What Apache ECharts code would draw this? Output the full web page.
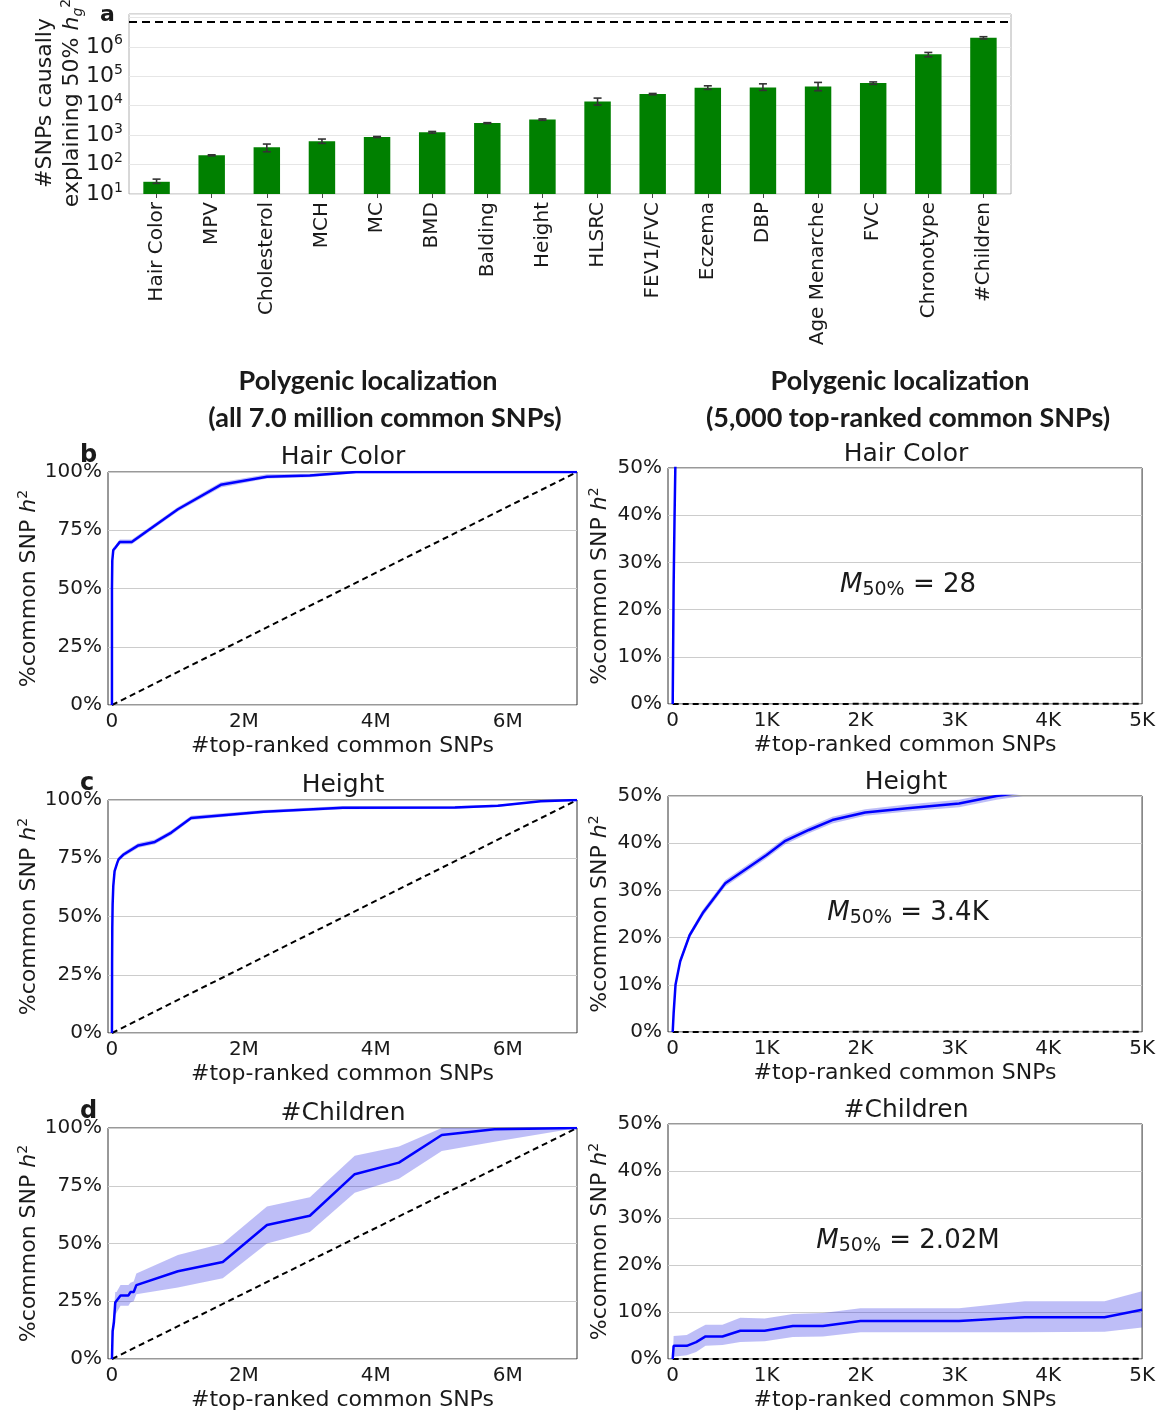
<!DOCTYPE html>
<html>
<head>
<meta charset="utf-8">
<script src="https://cdn.jsdelivr.net/npm/echarts@6/dist/echarts.min.js"></script>
<style>
  html, body { margin: 0; padding: 0; background: #fff; }
  #main { width: 1158px; height: 1412px; }
</style>
</head>
<body>
<div id="main"></div>
<script>
// panel a: #SNPs causally explaining 50% h2g
var traits = ['Hair Color', 'MPV', 'Cholesterol', 'MCH', 'MC', 'BMD', 'Balding', 'Height', 'HLSRC',
  'FEV1/FVC', 'Eczema', 'DBP', 'Age Menarche', 'FVC', 'Chronotype', '#Children'];
var m50 = [26, 206, 384, 614, 860, 1240, 2560, 3400, 13960, 24700, 40500, 41700, 45200, 58500, 562000, 2020000];
var m50Lo = [23, 198, 272, 525, 830, 1170, 2470, 3200, 10500, 23500, 35700, 33100, 32100, 53000, 457000, 1850000];
var m50Hi = [32, 215, 497, 735, 900, 1330, 2650, 3550, 18100, 26000, 47300, 55200, 61700, 64000, 643000, 2200000];
var totalSnps = 7000000;

// panels b-d, left column: x in millions of top-ranked SNPs, y in % of common SNP h2
var hairAllX = [0, 0.0001, 0.005, 0.02, 0.05, 0.12, 0.3, 0.55, 1.0, 1.65, 2.35, 3.0, 3.7, 7.05];
var hairAllY = [0, 50, 62, 66.5, 67.5, 70, 70, 75, 84, 94.5, 98, 98.5, 100, 100];
var hairAllLo = [0, 48, 60, 65.5, 66.5, 69, 69, 74, 83, 93.3, 97.2, 97.8, 99.5, 99.8];
var hairAllHi = [0, 52, 64, 67.5, 68.5, 71, 71, 76, 85, 95.6, 99, 99.3, 100, 100];

var heightAllX = [0, 0.002, 0.005, 0.01, 0.02, 0.04, 0.08, 0.1, 0.17, 0.4, 0.65, 0.9, 1.2, 2.3, 3.5, 5.2, 5.85, 6.5, 7.05];
var heightAllY = [0, 30, 45, 55, 63, 69.5, 73, 74.5, 76.5, 80.5, 82, 86, 92.3, 95, 96.7, 96.8, 97.5, 99.5, 100];
var heightAllLo = [0, 29, 44, 54, 62, 68.5, 72, 73.5, 75.5, 79.5, 81, 85, 91.4, 94.3, 96, 96.2, 97, 99.2, 99.8];
var heightAllHi = [0, 31, 46, 56, 64, 70.5, 74, 75.5, 77.5, 81.5, 83, 87, 93.2, 95.7, 97.4, 97.4, 98, 99.8, 100];

var kidsAllX = [0, 0.01, 0.03, 0.05, 0.07, 0.13, 0.25, 0.28, 0.33, 0.37, 1.0, 1.68, 2.35, 3.0, 3.68, 4.35, 5.0, 5.8, 7.05];
var kidsAllY = [0, 12, 16, 24.5, 24.5, 27.5, 27.5, 29, 29, 32, 38, 42, 58, 62, 80, 85, 97, 99.5, 100];
var kidsAllLo = [0, 8, 12, 19, 20, 23, 23, 24.5, 25, 28, 31, 35, 50, 55, 72, 78, 90, 94, 100];
var kidsAllHi = [0, 16, 21, 29, 29, 32, 32, 33, 33.5, 37, 45, 50, 66, 70, 88, 92, 100, 100, 100];

// right column: x in top-ranked SNPs (first 5,000)
var hairTopX = [0, 4, 10, 20, 28, 40];
var hairTopY = [0, 10, 25, 40, 50, 60];
var hairTopLo = [0, 9.6, 24.4, 39.4, 49.4, 59.4];
var hairTopHi = [0, 10.4, 25.6, 40.6, 50.6, 60.6];

var heightTopX = [0, 10, 30, 80, 180, 320, 560, 1000, 1200, 1450, 1700, 2050, 2500, 3050, 3450, 3800, 4500];
var heightTopY = [0, 4, 10, 15, 20.5, 25.2, 31.5, 37.5, 40.5, 42.8, 44.9, 46.5, 47.4, 48.4, 50, 51, 53];
var heightTopLo = [0, 3.6, 9.5, 14.4, 19.9, 24.5, 30.8, 36.8, 39.8, 42.1, 44.2, 45.8, 46.7, 47.6, 49.2, 50.2, 52.2];
var heightTopHi = [0, 4.4, 10.5, 15.6, 21.1, 25.9, 32.2, 38.2, 41.2, 43.5, 45.6, 47.2, 48.2, 49.2, 50.8, 51.8, 53.8];

var kidsTopX = [0, 10, 150, 250, 350, 530, 720, 980, 1280, 1600, 2000, 3050, 3750, 4600, 5000];
var kidsTopY = [0, 2.8, 2.8, 3.6, 4.8, 4.8, 6, 6, 7, 7, 8.1, 8.1, 8.9, 8.9, 10.5];
var kidsTopLo = [0, 0.5, 0.8, 1.5, 2.8, 3, 3.6, 3.8, 4.7, 4.8, 5.7, 5.7, 5.7, 5.8, 6.7];
var kidsTopHi = [0, 4.9, 5.1, 6.2, 7.3, 7.3, 8.8, 8.6, 9.6, 9.8, 10.8, 10.8, 12.3, 12.3, 14.4];

// null expectation (uniform h2 across SNPs)
var nullAllX = [0, 7.05];
var nullAllY = [0, 100];
var nullTopX = [0, 5000];
var nullTopY = [0, 0.07];

var m50Text = ['28', '3.4K', '2.02M'];
var rowTitles = ['Hair Color', 'Height', '#Children'];
var rowLetters = ['b', 'c', 'd'];

var FONT = 'DejaVu Sans';
var TXT = '#1a1a1a';

function zip(xs, ys) {
  return xs.map(function(x, i) { return [x, ys[i]]; });
}

var panels = [
  { row: 0, col: 0, x: hairAllX, y: hairAllY, lo: hairAllLo, hi: hairAllHi },
  { row: 0, col: 1, x: hairTopX, y: hairTopY, lo: hairTopLo, hi: hairTopHi },
  { row: 1, col: 0, x: heightAllX, y: heightAllY, lo: heightAllLo, hi: heightAllHi },
  { row: 1, col: 1, x: heightTopX, y: heightTopY, lo: heightTopLo, hi: heightTopHi },
  { row: 2, col: 0, x: kidsAllX, y: kidsAllY, lo: kidsAllLo, hi: kidsAllHi },
  { row: 2, col: 1, x: kidsTopX, y: kidsTopY, lo: kidsTopLo, hi: kidsTopHi }
];

var leftTops = [472, 800, 1128];
var rightTops = [468, 796, 1124];

var grids = [{ left: 129, right: 147, top: 14, bottom: 1218, show: true, borderColor: '#b0b0b0', borderWidth: 1 }];
var xAxes = [{
  type: 'category', gridIndex: 0, data: traits,
  axisLine: { show: false },
  axisTick: { show: true, length: 4, alignWithLabel: true, lineStyle: { color: '#444' } },
  axisLabel: { rotate: 90, margin: 8, fontSize: 20, fontFamily: FONT, color: TXT }
}];
var yAxes = [{
  type: 'log', logBase: 10, gridIndex: 0, min: 10, max: 13000000,
  axisLine: { show: false }, axisTick: { show: false },
  splitLine: { lineStyle: { color: '#e6e6e6' } },
  axisLabel: {
    margin: 6,
    formatter: function(v) {
      var e = Math.round(Math.log(v) / Math.LN10);
      if (e > 6 || Math.abs(Math.pow(10, e) - v) > 1e-6 * v) return '';
      return '{b|10}{s|' + e + '}';
    },
    rich: {
      b: { fontSize: 22, fontFamily: FONT, color: TXT, lineHeight: 26 },
      s: { fontSize: 14, fontFamily: FONT, color: TXT, lineHeight: 12, verticalAlign: 'top' }
    }
  }
}];

var series = [
  {
    type: 'bar', xAxisIndex: 0, yAxisIndex: 0, data: m50, barWidth: '48%',
    itemStyle: { color: '#008000' }, clip: true, silent: true,
    markLine: {
      symbol: 'none', silent: true, label: { show: false },
      lineStyle: { color: '#000', type: [8, 5], width: 2 },
      data: [{ yAxis: totalSnps }]
    }
  },
  {
    type: 'custom', xAxisIndex: 0, yAxisIndex: 0, z: 10, silent: true,
    data: traits.map(function(t, i) { return [i, m50Lo[i], m50Hi[i]]; }),
    renderItem: function(params, api) {
      var i = api.value(0);
      var top = api.coord([i, api.value(2)]);
      var bot = api.coord([i, api.value(1)]);
      var hw = 4, st = { stroke: '#333', lineWidth: 1.6 };
      return {
        type: 'group', children: [
          { type: 'line', shape: { x1: top[0], y1: top[1], x2: bot[0], y2: bot[1] }, style: st },
          { type: 'line', shape: { x1: top[0] - hw, y1: top[1], x2: top[0] + hw, y2: top[1] }, style: st },
          { type: 'line', shape: { x1: bot[0] - hw, y1: bot[1], x2: bot[0] + hw, y2: bot[1] }, style: st }
        ]
      };
    }
  }
];

var hRich = {
  n: { fontSize: 22, fontFamily: FONT, color: TXT, lineHeight: 26 },
  it: { fontSize: 22, fontFamily: FONT, fontStyle: 'italic', color: TXT, lineHeight: 26 },
  sup: { fontSize: 14, fontFamily: FONT, color: TXT, lineHeight: 12, verticalAlign: 'top' }
};

// confidence band as one polygon, hi edge forward then lo edge back
function bandSeries(p, idx) {
  return {
    type: 'custom', xAxisIndex: idx, yAxisIndex: idx, silent: true, z: 2, clip: true,
    data: [[p.x[0], p.y[0]]],
    renderItem: function(params, api) {
      var pts = [], i;
      for (i = 0; i < p.x.length; i++) pts.push(api.coord([p.x[i], p.hi[i]]));
      for (i = p.x.length - 1; i >= 0; i--) pts.push(api.coord([p.x[i], p.lo[i]]));
      var cs = params.coordSys;
      return {
        type: 'polygon', shape: { points: pts },
        style: { fill: 'rgba(40,40,230,0.3)', stroke: null },
        clipPath: { type: 'rect', shape: { x: cs.x, y: cs.y, width: cs.width, height: cs.height } }
      };
    }
  };
}

panels.forEach(function(p, k) {
  var idx = k + 1;
  var isAll = p.col === 0;
  var grid = isAll
    ? { left: 108, right: 581, top: leftTops[p.row], height: 233 }
    : { left: 668, right: 15, top: rightTops[p.row], height: 236 };
  grid.show = true;
  grid.borderColor = '#333';
  grid.borderWidth = 1;
  grids.push(grid);

  xAxes.push({
    type: 'value', gridIndex: idx,
    min: isAll ? -0.06 : -50, max: isAll ? 7.05 : 5000,
    axisLine: { show: false }, axisTick: { show: false }, splitLine: { show: false },
    name: '#top-ranked common SNPs', nameLocation: 'middle', nameGap: 30,
    nameTextStyle: { fontSize: 22, fontFamily: FONT, color: TXT },
    axisLabel: {
      margin: 7, fontSize: 20, fontFamily: FONT, color: TXT,
      customValues: isAll ? [0, 2, 4, 6] : [0, 1000, 2000, 3000, 4000, 5000],
      formatter: function(v) {
        if (v === 0) return '0';
        return isAll ? v + 'M' : (v / 1000) + 'K';
      }
    }
  });

  yAxes.push({
    type: 'value', gridIndex: idx, min: 0, max: isAll ? 100 : 50, interval: isAll ? 25 : 10,
    axisLine: { show: false }, axisTick: { show: false },
    splitLine: { lineStyle: { color: '#cccccc', width: 1 } },
    axisLabel: { margin: 6, fontSize: 20, fontFamily: FONT, color: TXT, formatter: '{value}%' },
    name: '{n|%common SNP }{it|h}{sup|2}', nameLocation: 'middle', nameRotate: 90,
    nameGap: isAll ? 66 : 55,
    nameTextStyle: { rich: hRich }
  });

  series.push(bandSeries(p, idx));
  series.push({
    type: 'line', xAxisIndex: idx, yAxisIndex: idx, data: zip(p.x, p.y),
    symbol: 'none', silent: true, lineStyle: { color: '#0000ff', width: 2.5 }, z: 4
  });
  series.push({
    type: 'line', xAxisIndex: idx, yAxisIndex: idx,
    data: isAll ? zip(nullAllX, nullAllY) : zip(nullTopX, nullTopY),
    symbol: 'none', silent: true, lineStyle: { color: '#000', width: 2, type: [6, 4] }, z: 3
  });
});

var HEAD = 'bold 27px Lato';
var graphics = [
  { type: 'text', x: 100, y: 4, style: { text: 'a', font: 'bold 22px "DejaVu Sans"', fill: TXT } },
  {
    type: 'group', x: 58, y: 103, rotation: Math.PI / 2,
    children: [
      { type: 'text', x: 0, y: -13, style: { text: '#SNPs causally', align: 'center', verticalAlign: 'middle',
        font: '22px "DejaVu Sans"', fill: TXT } },
      { type: 'text', x: 0, y: 14, style: {
        text: '{n|explaining 50% }{it|h}{sub|g}{sup|2}', align: 'center', verticalAlign: 'middle',
        rich: {
          n: { fontSize: 22, fontFamily: FONT, fill: TXT, lineHeight: 26 },
          it: { fontSize: 22, fontFamily: FONT, fontStyle: 'italic', fill: TXT, lineHeight: 26 },
          sub: { fontSize: 14, fontFamily: FONT, fontStyle: 'italic', fill: TXT, lineHeight: 12, verticalAlign: 'bottom' },
          sup: { fontSize: 14, fontFamily: FONT, fill: TXT, lineHeight: 12, verticalAlign: 'top' }
        } } }
    ]
  },
  { type: 'text', x: 368, y: 381, style: { text: 'Polygenic localization', align: 'center', verticalAlign: 'middle',
    font: HEAD, fill: TXT } },
  { type: 'text', x: 385, y: 418, style: { text: '(all 7.0 million common SNPs)', align: 'center', verticalAlign: 'middle',
    font: HEAD, fill: TXT } },
  { type: 'text', x: 900, y: 381, style: { text: 'Polygenic localization', align: 'center', verticalAlign: 'middle',
    font: HEAD, fill: TXT } },
  { type: 'text', x: 908, y: 418, style: { text: '(5,000 top-ranked common SNPs)', align: 'center', verticalAlign: 'middle',
    font: HEAD, fill: TXT } }
];

rowTitles.forEach(function(t, r) {
  graphics.push({ type: 'text', x: 343, y: leftTops[r] - 15, style: { text: t, align: 'center', verticalAlign: 'middle',
    font: '25px "DejaVu Sans"', fill: TXT } });
  graphics.push({ type: 'text', x: 906, y: rightTops[r] - 14, style: { text: t, align: 'center', verticalAlign: 'middle',
    font: '25px "DejaVu Sans"', fill: TXT } });
  graphics.push({ type: 'text', x: 80, y: leftTops[r] - 28, style: { text: rowLetters[r], font: 'bold 24px "DejaVu Sans"', fill: TXT } });
  graphics.push({ type: 'text', x: 908, y: rightTops[r] + 117, style: {
    text: '{m|M}{s|50%}{t| = ' + m50Text[r] + '}', align: 'center', verticalAlign: 'middle',
    rich: {
      m: { fontSize: 26, fontFamily: FONT, fontStyle: 'italic', fill: TXT, lineHeight: 30 },
      s: { fontSize: 19, fontFamily: FONT, fill: TXT, lineHeight: 18, verticalAlign: 'bottom' },
      t: { fontSize: 26, fontFamily: FONT, fill: TXT, lineHeight: 30 }
    } } });
});

var chart = echarts.init(document.getElementById('main'), null, { renderer: 'canvas' });
chart.setOption({
  animation: false,
  backgroundColor: '#fff',
  grid: grids,
  xAxis: xAxes,
  yAxis: yAxes,
  series: series,
  graphic: graphics
});
</script>
</body>
</html>
